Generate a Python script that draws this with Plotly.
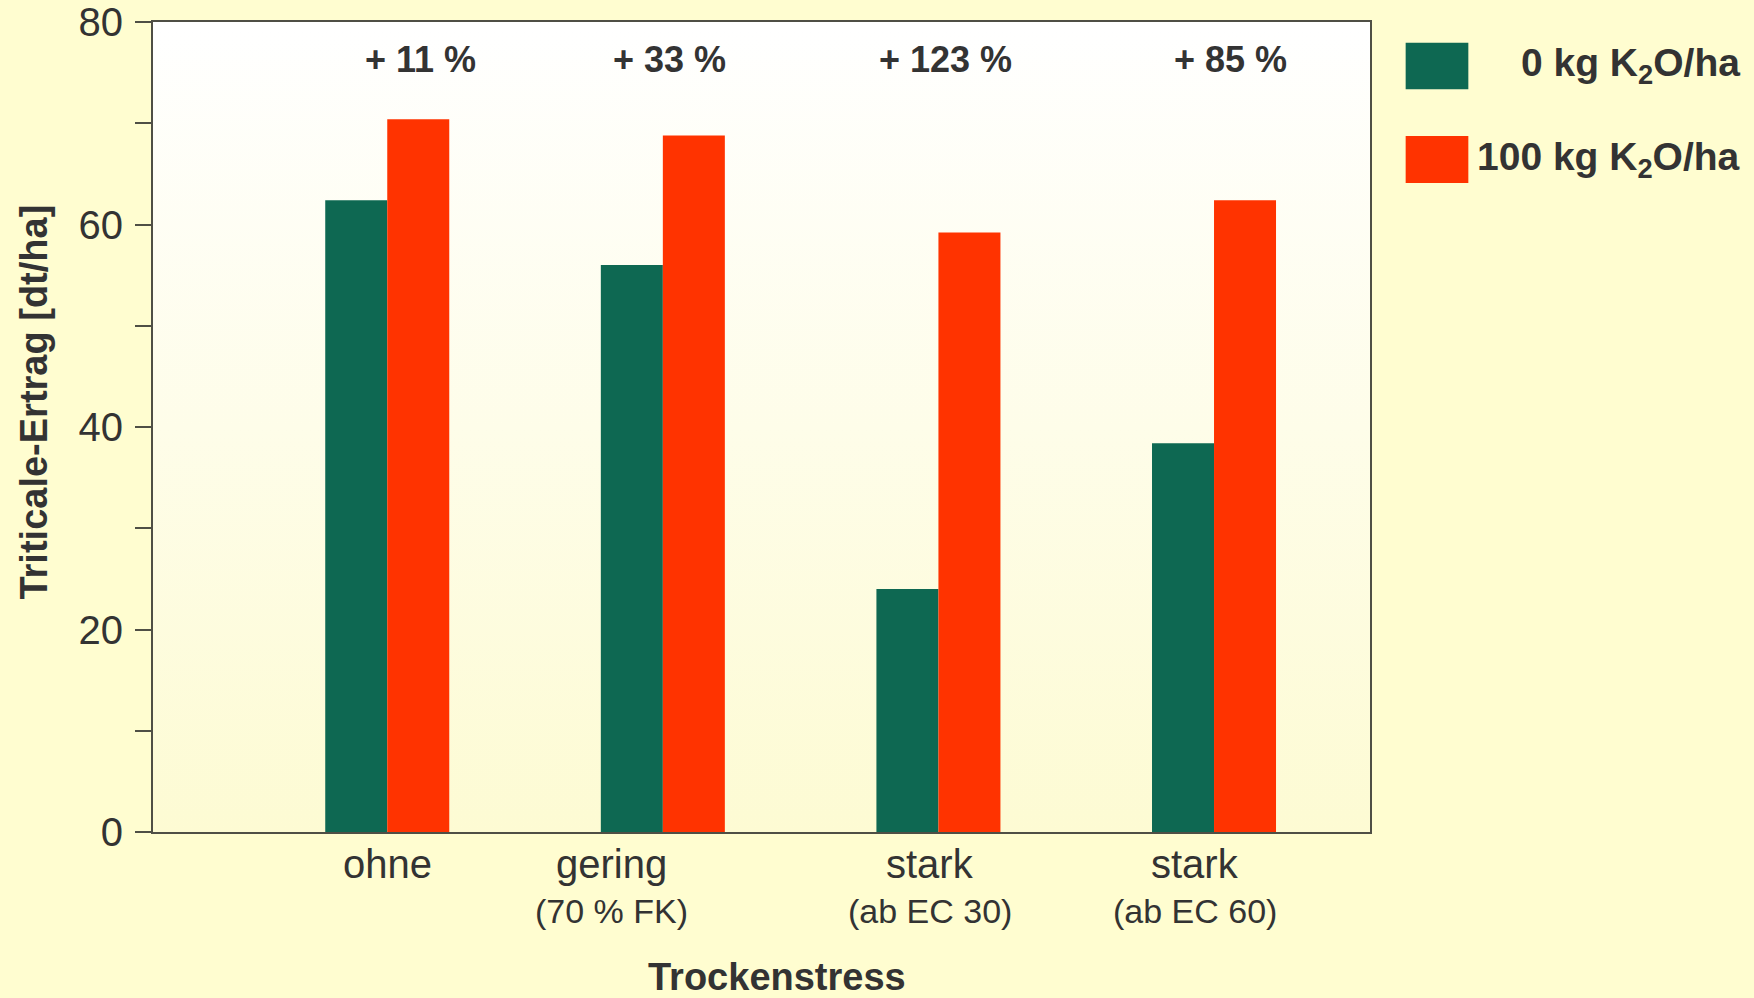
import plotly.graph_objects as go

# Triticale yield under drought stress, with and without potassium fertilisation
categories = ["ohne", "gering", "stark", "stark"]
sub_labels = ["", "(70 % FK)", "(ab EC 30)", "(ab EC 60)"]
yield_0k = [62.4, 56.0, 24.0, 38.4]
yield_100k = [70.4, 68.8, 59.2, 62.4]
increase_labels = ["+ 11 %", "+ 33 %", "+ 123 %", "+ 85 %"]
series_names = ["0 kg K<sub>2</sub>O/ha", "100 kg K<sub>2</sub>O/ha"]
y_ticks = [0, 20, 40, 60, 80]

GREEN = "#0E6852"
RED = "#FF3300"
TEXT = "#333333"
FRAME = "#4F4F45"
PAGE_BG = "#FFFDD0"
FONT = "Liberation Sans, Arial, Helvetica, sans-serif"

W, H = 1754, 998
M_L, M_R, M_T, M_B = 153, 384, 22, 166
X_RANGE = [-0.85, 3.566]
Y_RANGE = [0, 80]

idx = list(range(len(categories)))

fig = go.Figure()

# plot-area background on the base axes: white at the top fading into pale yellow
fig.add_trace(go.Scatter(
    x=[X_RANGE[0], X_RANGE[1], X_RANGE[1], X_RANGE[0]],
    y=[Y_RANGE[0], Y_RANGE[0], Y_RANGE[1], Y_RANGE[1]],
    mode="lines", line=dict(width=0), fill="toself",
    fillgradient=dict(type="vertical",
                      colorscale=[[0, "#FDFBD3"], [1, "#FFFFFF"]]),
    hoverinfo="skip", showlegend=False, xaxis="x", yaxis="y",
))

# bars live on overlaid axes so they are painted above the background
for vals, color, name in [(yield_0k, GREEN, series_names[0]),
                          (yield_100k, RED, series_names[1])]:
    fig.add_trace(go.Bar(
        x=idx, y=vals, name=name, marker=dict(color=color, line=dict(width=0)),
        offsetgroup=name, showlegend=False, xaxis="x2", yaxis="y2",
    ))

annotations = []

# category labels below the axis
label_shift = [0, -51, -8, -19]
for i, (main, sub) in enumerate(zip(categories, sub_labels)):
    annotations.append(dict(
        x=i, xref="x2", y=-0.039, yref="paper", text=main, showarrow=False,
        xanchor="center", yanchor="middle", xshift=label_shift[i],
        font=dict(family=FONT, size=40, color=TEXT)))
    if sub:
        annotations.append(dict(
            x=i, xref="x2", y=-0.097, yref="paper", text=sub, showarrow=False,
            xanchor="center", yanchor="middle", xshift=label_shift[i],
            font=dict(family=FONT, size=34, color=TEXT)))

# relative yield increase above each group
pct_shift = [33, 7, 7, 16]
for i, txt in enumerate(increase_labels):
    annotations.append(dict(
        x=i, xref="x2", y=0.9538, yref="paper", text=f"<b>{txt}</b>",
        showarrow=False, xanchor="center", yanchor="middle",
        xshift=pct_shift[i],
        font=dict(family=FONT, size=36, color=TEXT)))

# axis titles
annotations.append(dict(
    x=-0.0978, y=0.5314, xref="paper", yref="paper",
    text="<b>Triticale-Ertrag [dt/ha]</b>", textangle=-90, showarrow=False,
    xanchor="center", yanchor="middle",
    font=dict(family=FONT, size=38, color=TEXT)))
annotations.append(dict(
    x=0.5127, y=-0.1785, xref="paper", yref="paper",
    text="<b>Trockenstress</b>", showarrow=False,
    xanchor="center", yanchor="middle",
    font=dict(family=FONT, size=38, color=TEXT)))

# legend: colour swatches with right-aligned labels
shapes = []
legend_rows = [(GREEN, series_names[0], 0.9745, 0.9170),
               (RED, series_names[1], 0.8594, 0.8011)]
for color, name, top, bottom in legend_rows:
    shapes.append(dict(type="rect", xref="paper", yref="paper",
                       x0=1.0293, x1=1.0808, y0=bottom, y1=top,
                       fillcolor=color, line=dict(width=0)))
    annotations.append(dict(
        x=1.3060, y=(top + bottom) / 2, xref="paper", yref="paper",
        text=f"<b>{name}</b>", showarrow=False,
        xanchor="right", yanchor="middle",
        font=dict(family=FONT, size=39, color=TEXT)))

fig.update_layout(
    width=W, height=H, autosize=False,
    margin=dict(l=M_L, r=M_R, t=M_T, b=M_B, pad=0),
    paper_bgcolor=PAGE_BG, plot_bgcolor=PAGE_BG,
    barmode="group", bargap=0.55, bargroupgap=0,
    showlegend=False,
    annotations=annotations, shapes=shapes,
    font=dict(family=FONT, color=TEXT),
    xaxis=dict(
        range=X_RANGE, showgrid=False, zeroline=False, showticklabels=False,
        ticks="", showline=True, mirror=True, linecolor=FRAME, linewidth=2,
        automargin=False,
    ),
    yaxis=dict(
        range=Y_RANGE, tickvals=y_ticks, showgrid=False, zeroline=False,
        ticks="outside", ticklen=16, tickwidth=2, tickcolor=FRAME,
        minor=dict(dtick=10, ticks="outside", ticklen=16, tickwidth=2,
                   tickcolor=FRAME, showgrid=False),
        showline=True, mirror=True, linecolor=FRAME, linewidth=2,
        tickfont=dict(family=FONT, size=40, color=TEXT),
        ticklabelstandoff=4, automargin=False,
    ),
    xaxis2=dict(range=X_RANGE, overlaying="x", visible=False,
                automargin=False),
    yaxis2=dict(range=Y_RANGE, overlaying="y", visible=False,
                automargin=False),
)

fig.write_html("out.html")
